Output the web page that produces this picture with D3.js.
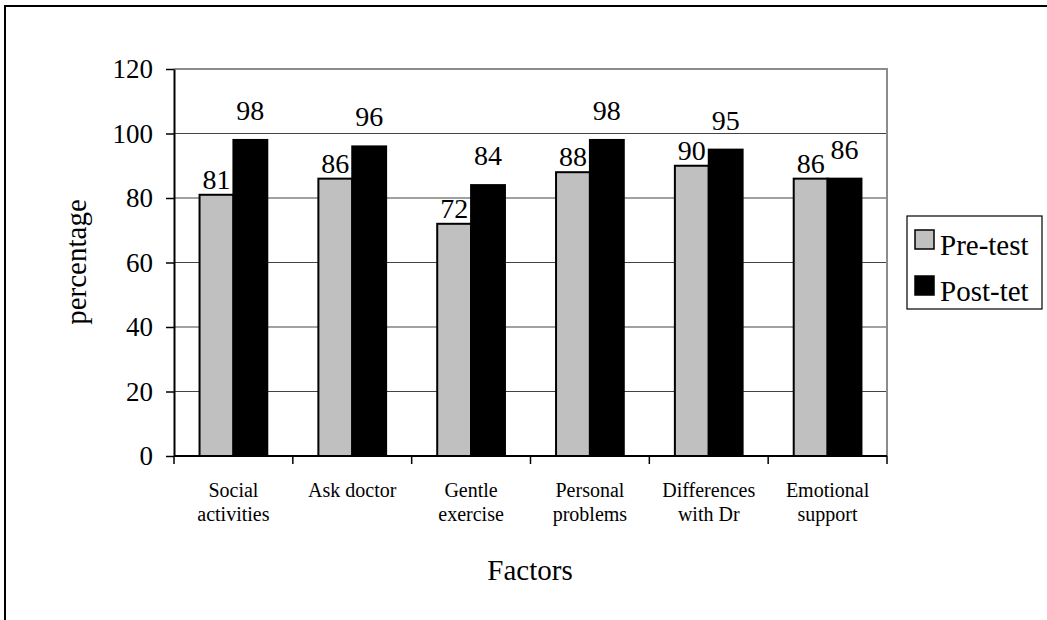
<!DOCTYPE html>
<html lang="en">
<head>
<meta charset="utf-8">
<title>Pre-test / Post-test</title>
<script src="https://cdn.jsdelivr.net/npm/d3@7/dist/d3.min.js"></script>
<style>
  body { margin: 0; background: #fff; }
  svg { display: block; }
  svg text { font-family: "Liberation Serif", "Times New Roman", serif; fill: #000; }
</style>
</head>
<body>
<svg width="1047" height="620"></svg>
<script>
// data
const categories = ["Social activities", "Ask doctor", "Gentle exercise", "Personal problems", "Differences with Dr", "Emotional support"];
const categoryLines = [["Social", "activities"], ["Ask doctor"], ["Gentle", "exercise"], ["Personal", "problems"], ["Differences", "with Dr"], ["Emotional", "support"]];
const series = ["Pre-test", "Post-tet"];
const preTest = [81, 86, 72, 88, 90, 86];
const postTest = [98, 96, 84, 98, 95, 86];
const yTicks = [0, 20, 40, 60, 80, 100, 120];

const colors = {"Pre-test": "#c0c0c0", "Post-tet": "#000000"};
const labelLift = {"Pre-test": 6, "Post-tet": 20};
const serif = "'Liberation Serif', 'Times New Roman', serif";

const rows = categories.map((c, i) => ({cat: c, lines: categoryLines[i], values: [
  {key: series[0], value: preTest[i]},
  {key: series[1], value: postTest[i]}
]}));

const svg = d3.select("svg");
const plot = {left: 174, right: 887, top: 69, bottom: 456};

// outer frame
svg.append("rect")
  .attr("x", 5).attr("y", 6)
  .attr("width", 1200).attr("height", 800)
  .attr("fill", "none").attr("stroke", "#000").attr("stroke-width", 2);

const x = d3.scaleBand()
  .domain(categories)
  .range([plot.left, plot.right])
  .paddingInner(0.43)
  .paddingOuter(0.215);

const x1 = d3.scaleBand()
  .domain(series)
  .range([0, x.bandwidth()]);

const y = d3.scaleLinear()
  .domain([0, 120])
  .range([plot.bottom, plot.top]);

// gridlines
svg.append("g")
  .selectAll("line")
  .data(yTicks.filter(t => t > 0 && t < 120))
  .join("line")
    .attr("x1", plot.left).attr("x2", plot.right)
    .attr("y1", d => y(d)).attr("y2", d => y(d))
    .attr("stroke", "#444").attr("stroke-width", 1.2);

// plot area border (top and right)
svg.append("path")
  .attr("d", `M${plot.left},${y(120)}H${plot.right}V${plot.bottom}`)
  .attr("fill", "none").attr("stroke", "#8c8c8c").attr("stroke-width", 2);

// bars
const groups = svg.append("g")
  .selectAll("g")
  .data(rows)
  .join("g")
    .attr("transform", d => `translate(${x(d.cat)},0)`);

groups.selectAll("rect")
  .data(d => d.values)
  .join("rect")
    .attr("x", d => x1(d.key))
    .attr("y", d => y(d.value))
    .attr("width", x1.bandwidth())
    .attr("height", d => y(0) - y(d.value))
    .attr("fill", d => colors[d.key])
    .attr("stroke", "#000").attr("stroke-width", 2);

groups.selectAll("text")
  .data(d => d.values)
  .join("text")
    .attr("x", d => x1(d.key) + x1.bandwidth() / 2)
    .attr("y", d => y(d.value) - labelLift[d.key])
    .attr("text-anchor", "middle")
    .style("font-family", serif)
    .style("font-size", "28px")
    .text(d => d.value);

// y axis
const yAxis = svg.append("g")
  .attr("transform", `translate(${plot.left},0)`)
  .call(d3.axisLeft(y).tickValues(yTicks).tickSize(8).tickPadding(13).tickSizeOuter(0));
yAxis.select(".domain").attr("stroke", "#000").attr("stroke-width", 2);
yAxis.selectAll(".tick line").attr("stroke", "#000").attr("stroke-width", 1.5);
yAxis.selectAll(".tick text")
  .style("font-family", serif)
  .style("font-size", "27px");

// x axis with ticks at category boundaries
const xAxis = svg.append("g");
xAxis.append("line")
  .attr("x1", plot.left).attr("x2", plot.right)
  .attr("y1", plot.bottom).attr("y2", plot.bottom)
  .attr("stroke", "#000").attr("stroke-width", 2);
xAxis.selectAll("line.tk")
  .data(d3.range(categories.length + 1))
  .join("line")
    .attr("class", "tk")
    .attr("x1", i => plot.left + i * x.step())
    .attr("x2", i => plot.left + i * x.step())
    .attr("y1", plot.bottom).attr("y2", plot.bottom + 8)
    .attr("stroke", "#000").attr("stroke-width", 1.5);

xAxis.selectAll("text")
  .data(rows)
  .join("text")
    .attr("x", d => x(d.cat) + x.bandwidth() / 2)
    .attr("y", 497)
    .attr("text-anchor", "middle")
    .style("font-family", serif)
    .style("font-size", "20px")
    .selectAll("tspan")
    .data(d => d.lines)
    .join("tspan")
      .attr("x", function() { return this.parentNode.getAttribute("x"); })
      .attr("dy", (d, i) => i === 0 ? 0 : 24)
      .text(d => d);

// axis titles
svg.append("text")
  .attr("x", 530).attr("y", 580)
  .attr("text-anchor", "middle")
  .style("font-family", serif)
  .style("font-size", "29px")
  .text("Factors");

svg.append("text")
  .attr("transform", "translate(86,262) rotate(-90)")
  .attr("text-anchor", "middle")
  .style("font-family", serif)
  .style("font-size", "29px")
  .text("percentage");

// legend
const legend = svg.append("g");
legend.append("rect")
  .attr("x", 907).attr("y", 216)
  .attr("width", 135).attr("height", 93)
  .attr("fill", "#fff").attr("stroke", "#000").attr("stroke-width", 1.2);

const items = legend.selectAll("g")
  .data(series)
  .join("g")
    .attr("transform", (d, i) => `translate(915,${230 + i * 46})`);
items.append("rect")
  .attr("width", 19).attr("height", 19)
  .attr("fill", d => colors[d])
  .attr("stroke", "#000").attr("stroke-width", 1.5);
items.append("text")
  .attr("x", 25).attr("y", 25)
  .style("font-family", serif)
  .style("font-size", "29px")
  .text(d => d);
</script>
</body>
</html>
